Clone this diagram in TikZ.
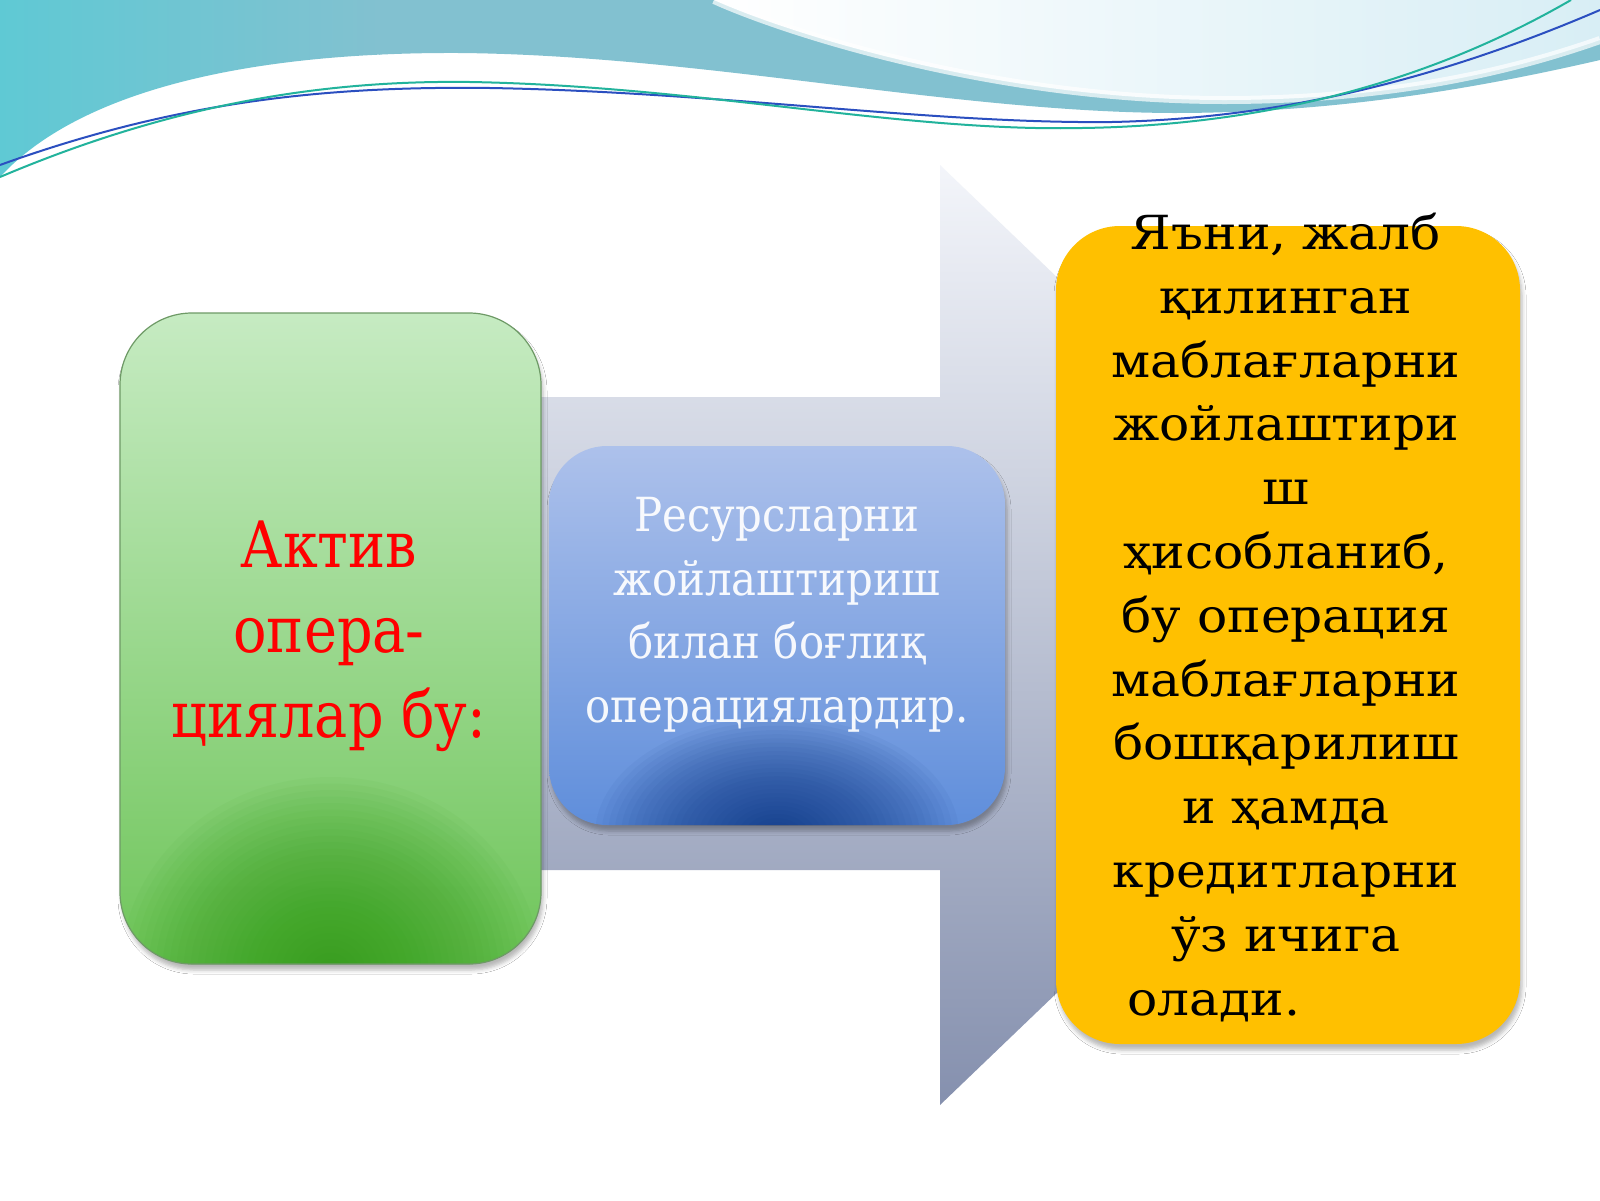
\documentclass[tikz,border=0pt]{standalone}
\usepackage{fontspec}
\setmainfont{DejaVu Serif}
\newfontfamily\fontgreen{DejaVu Serif}[FakeStretch=0.87]
\newfontfamily\fontblue{DejaVu Serif}[FakeStretch=0.89]
\newfontfamily\fontyellow{DejaVu Serif}[FakeStretch=1.07]
\usetikzlibrary{shadows.blur}
\definecolor{tealband}{HTML}{82C1D0}
\definecolor{tealcyan}{HTML}{5FC9D4}
\definecolor{skylight}{HTML}{D8EEF5}
\definecolor{wavegreen}{HTML}{22B39C}
\definecolor{waveblue}{HTML}{2B4FC0}
\definecolor{arrowtop}{HTML}{F3F5FA}
\definecolor{arrowbot}{HTML}{8590AE}
\definecolor{gtop}{HTML}{C6EBC2}
\definecolor{gmid}{HTML}{BDE7B6}
\definecolor{gbot}{HTML}{6FC55A}
\definecolor{gdark}{HTML}{2F9A14}
\definecolor{gborder}{HTML}{6E9A66}
\definecolor{btop}{HTML}{ADC1EB}
\definecolor{bmid}{HTML}{8AA8E3}
\definecolor{bbot}{HTML}{5F8EDB}
\definecolor{bdark}{HTML}{062F7C}
\definecolor{yfill}{HTML}{FFC000}
\definecolor{redtxt}{HTML}{FF0000}
\begin{document}
\begin{tikzpicture}[x=1pt,y=-1pt,
  panel/.style={inner sep=0pt, outer sep=0pt,
    blur shadow={shadow xshift=2pt, shadow yshift=-6pt, shadow blur radius=4pt, shadow opacity=28}},
  greenbox/.style={panel, rounded corners=72pt, top color=gtop, middle color=gmid, bottom color=gbot,
    draw=gborder, line width=1.2pt, minimum width=421pt, minimum height=651pt,
    path picture={\foreach \r in {1,...,30}{\fill[gdark, fill opacity=0.042]
      ([yshift=-8pt]path picture bounding box.south) ellipse [x radius=\r*7pt, y radius=\r*6.5pt];}}},
  bluebox/.style={panel, rounded corners=58pt, top color=btop, middle color=bmid, bottom color=bbot,
    minimum width=456pt, minimum height=379pt,
    path picture={\foreach \r in {1,...,28}{\fill[bdark, fill opacity=0.045]
      ([yshift=-10pt]path picture bounding box.south) ellipse [x radius=\r*6.5pt, y radius=\r*4.2pt];}}},
  yellowbox/.style={panel, rounded corners=64pt, fill=yfill, minimum width=464pt, minimum height=818pt},
  wave/.style={line width=2pt},
  greentext/.style={text=redtxt, align=center, anchor=base, font=\fontgreen\fontsize{64}{84.7}\selectfont},
  bluetext/.style={text=white, text opacity=0.93, align=center, anchor=base, font=\fontblue\fontsize{47}{63.5}\selectfont},
  yellowtext/.style={text=black, align=center, anchor=base, font=\fontyellow\fontsize{47}{63.8}\selectfont}
]
\useasboundingbox (0,0) rectangle (1600,1200);
\fill[white] (0,0) rectangle (1600,1200);
% top wave band
\begin{scope}
\clip (0,0) -- (1600,0) -- (1600,60) .. controls (1470,90) and (1330,113) .. (1173,113)
  .. controls (950,112) and (700,55) .. (459,53) .. controls (250,52) and (80,90) .. (0,177) -- cycle;
\shade[left color=tealcyan, right color=tealband] (0,0) rectangle (380,200);
\fill[tealband] (379,0) rectangle (1600,200);
\end{scope}
\shade[left color=white, right color=skylight]
  (714,0) .. controls (780,30) and (990,100) .. (1224,100) .. controls (1400,100) and (1520,68) .. (1600,40) -- (1600,0) -- cycle;
\draw[white, line width=8pt, opacity=0.7]
  (714,0) .. controls (780,30) and (990,100) .. (1224,100) .. controls (1400,100) and (1520,68) .. (1600,40);
\draw[wave, waveblue] (0,165) .. controls (180,100) and (330,86) .. (490,88)
  .. controls (720,92) and (930,124) .. (1112,122) .. controls (1300,118) and (1460,70) .. (1600,10);
\draw[wave, wavegreen] (0,177) .. controls (170,105) and (320,80) .. (470,82)
  .. controls (700,86) and (900,132) .. (1082,128) .. controls (1290,125) and (1450,70) .. (1571,0);
% big arrow
\shade[top color=arrowtop, bottom color=arrowbot]
  (500,397) -- (940,397) -- (940,165) -- (1430,635) -- (940,1105) -- (940,870) -- (500,870) -- cycle;
% boxes
\node[greenbox] (act) at (330.5,638.5) {};
\node[bluebox] (res) at (777,635.5) {};
\node[yellowbox] (yan) at (1288,635) {};
% texts
\node[greentext] (acttxt) at (329,737) {Актив\\опера-\\циялар бу:};
\node[bluetext] (restxt) at (777,722) {Ресурсларни\\жойлаштириш\\билан боғлиқ\\операциялардир.};
\node[yellowtext] (yantxt) at (1286,1015) {Яъни, жалб\\қилинган\\маблағларни\\жойлаштири\\ш\\ҳисобланиб,\\бу операция\\маблағларни\\бошқарилиш\\и ҳамда\\кредитларни\\ўз ичига\\олади.\hspace*{144pt}};
\end{tikzpicture}
\end{document}
